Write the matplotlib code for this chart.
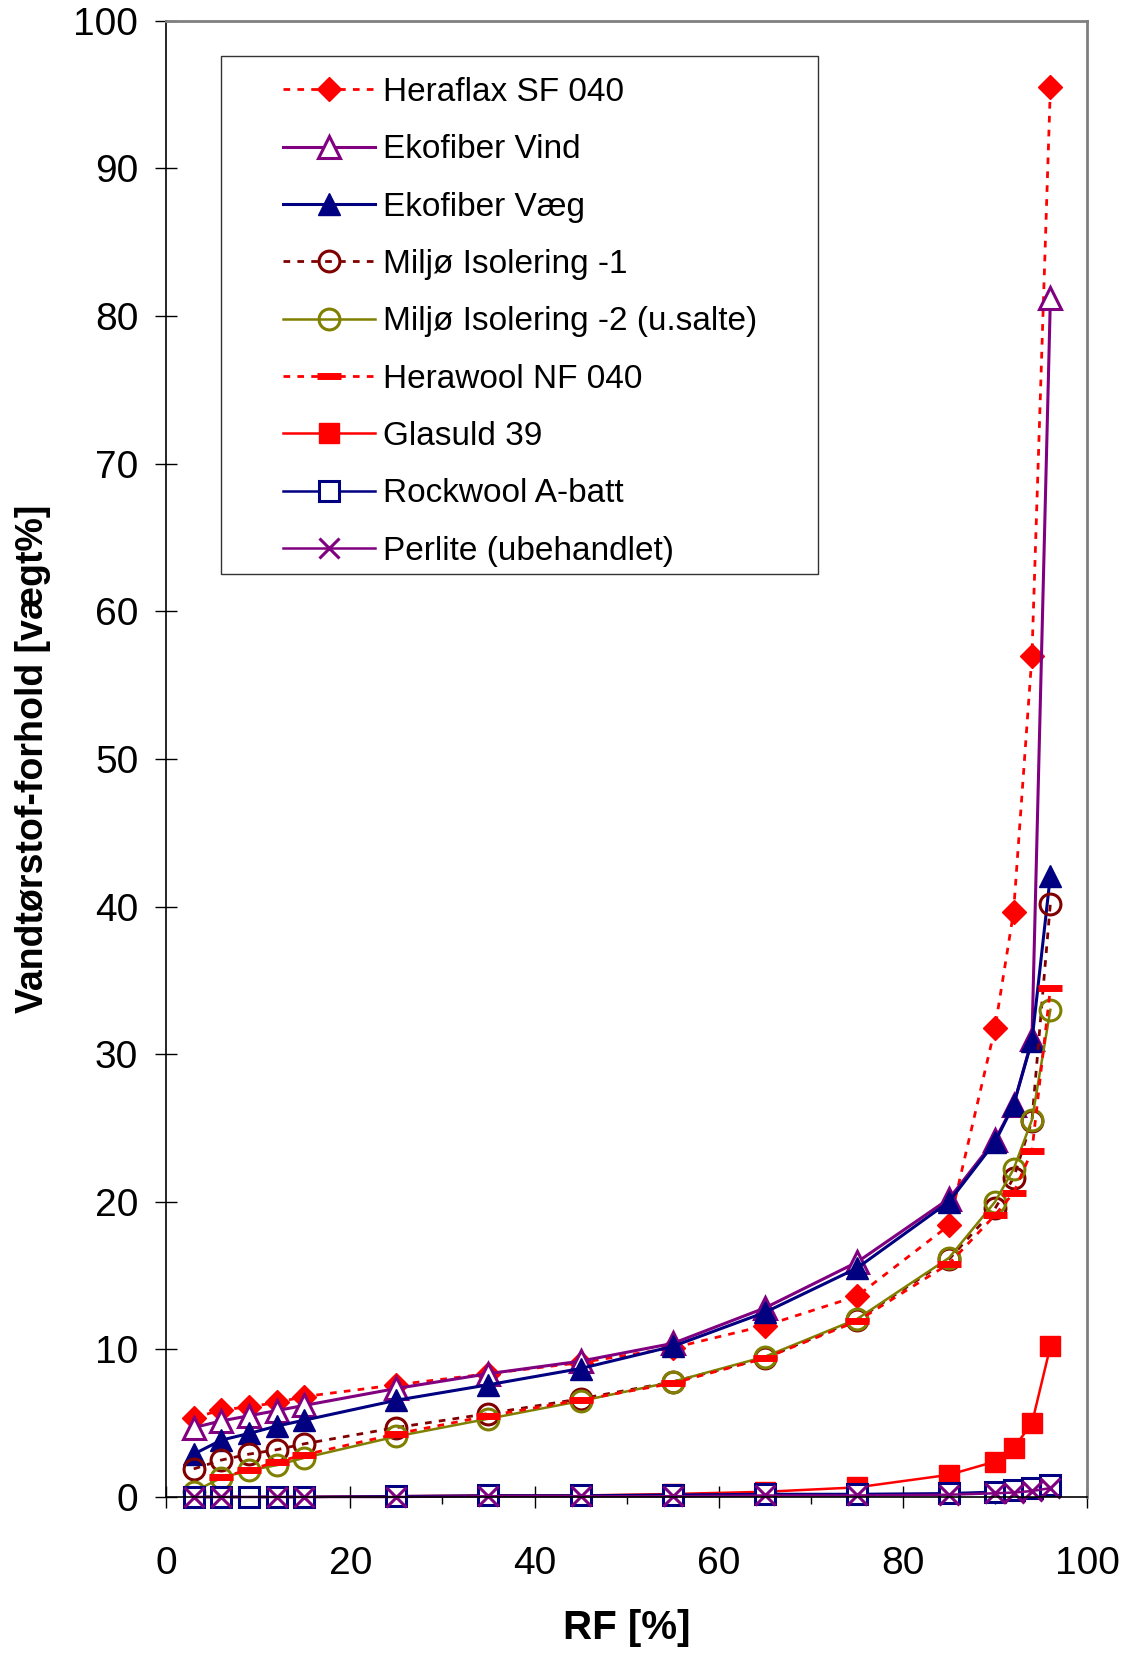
import numpy as np
import matplotlib.pyplot as plt
from matplotlib.patches import Rectangle

plt.rcParams['font.family'] = ['Liberation Sans', 'DejaVu Sans']

rf = [3, 6, 9, 12, 15, 25, 35, 45, 55, 65, 75, 85, 90, 92, 94, 96]

heraflax = [5.35, 5.9, 6.1, 6.4, 6.8, 7.6, 8.35, 9.1, 10.1, 11.6, 13.6, 18.4, 31.8, 39.6, 57.0, 95.5]
eko_vind = [4.7, 5.15, 5.5, 5.85, 6.2, 7.35, 8.35, 9.2, 10.4, 12.8, 15.9, 20.2, 24.2, 26.55, 31.0, 81.2]
eko_vaeg = [2.9, 3.85, 4.3, 4.8, 5.2, 6.55, 7.6, 8.7, 10.2, 12.5, 15.5, 20.0, 24.05, 26.55, 30.9, 42.1]
miljo1 = [1.9, 2.5, 2.9, 3.2, 3.6, 4.7, 5.65, 6.65, 7.8, 9.4, 12.0, 16.1, 19.55, 21.6, 25.5, 40.2]
miljo2 = [0.35, 1.3, 1.8, 2.15, 2.65, 4.1, 5.3, 6.5, 7.8, 9.5, 12.05, 16.2, 20.0, 22.2, 25.55, 33.0]

rf_herawool = [6, 9, 12, 15, 25, 35, 45, 55, 65, 75, 85, 90, 92, 94, 96]
herawool = [1.35, 1.83, 2.37, 2.85, 4.27, 5.5, 6.57, 7.7, 9.4, 11.9, 15.8, 19.1, 20.6, 23.45, 34.45]

glasuld = [0.0, 0.0, 0.0, 0.0, 0.0, 0.05, 0.1, 0.1, 0.2, 0.35, 0.65, 1.5, 2.4, 3.3, 5.0, 10.2]
rockwool = [0.0, 0.0, 0.0, 0.0, 0.0, 0.05, 0.1, 0.1, 0.15, 0.2, 0.2, 0.25, 0.35, 0.45, 0.6, 0.8]

rf_perlite = [3, 6, 12, 15, 25, 35, 45, 55, 65, 75, 85, 90, 92, 94, 96]
perlite = [0.0, 0.0, 0.0, 0.0, 0.0, 0.05, 0.05, 0.05, 0.1, 0.1, 0.15, 0.25, 0.3, 0.4, 0.6]

red = '#FF0000'
purple = '#800080'
navy = '#000080'
maroon = '#800000'
olive = '#808000'
dots = (0, (2.4, 2.6))

fig = plt.figure(figsize=(11.22, 16.53), dpi=100)
ax = fig.add_axes([0.148, 0.0944, 0.821, 0.893])

ax.plot(rf, heraflax, color=red, ls=dots, lw=2, marker='D', ms=12,
        mfc=red, mec=red, label='Heraflax SF 040', clip_on=False)
ax.plot(rf, eko_vind, color=purple, lw=2.2, marker='^', ms=16, mfc='white',
        mec=purple, mew=2.2, label='Ekofiber Vind', clip_on=False)
ax.plot(rf, eko_vaeg, color=navy, lw=2.2, marker='^', ms=16, mfc=navy,
        mec=navy, label='Ekofiber Væg', clip_on=False)
ax.plot(rf, miljo1, color=maroon, ls=dots, lw=2, marker='o', ms=15,
        mfc='none', mec=maroon, mew=2.2, label='Miljø Isolering -1', clip_on=False)
ax.plot(rf, miljo2, color=olive, lw=1.8, marker='o', ms=15, mfc='none',
        mec=olive, mew=2.2, label='Miljø Isolering -2 (u.salte)', clip_on=False)
ax.plot(rf_herawool, herawool, color=red, ls=dots, lw=2, marker='_', ms=17,
        mec=red, mew=5, label='Herawool NF 040', clip_on=False)
ax.plot(rf, glasuld, color=red, lw=1.8, marker='s', ms=15, mfc=red,
        mec=red, label='Glasuld 39', clip_on=False)
ax.plot(rf, rockwool, color=navy, lw=1.8, marker='s', ms=15, mfc='white',
        mec=navy, mew=2.2, label='Rockwool A-batt', clip_on=False)
ax.plot(rf_perlite, perlite, color=purple, lw=1.8, marker='x', ms=14,
        mec=purple, mew=2.2, label='Perlite (ubehandlet)', clip_on=False)

ax.set_xlim(0, 100)
ax.set_ylim(0, 100)
ax.set_xticks(np.arange(0, 101, 20))
ax.set_xticks(np.arange(10, 100, 20), minor=True)
ax.set_yticks(np.arange(0, 101, 10))
ax.tick_params(axis='both', which='major', direction='inout', length=16,
               width=1, labelsize=28, colors='black')
ax.tick_params(axis='x', which='major', pad=27)
ax.tick_params(axis='y', which='major', pad=12)
ax.tick_params(axis='x', which='minor', direction='out', length=5, width=1)

for s in ['top', 'right']:
    ax.spines[s].set_color('#808080')
    ax.spines[s].set_linewidth(2)
for s in ['left', 'bottom']:
    ax.spines[s].set_color('black')
    ax.spines[s].set_linewidth(1.2)

ax.set_xlabel('RF [%]', fontsize=29, fontweight='bold', labelpad=20)
ax.set_ylabel('Vandtørstof-forhold [vægt%]', fontsize=27, fontweight='bold', labelpad=16)

ax.add_patch(Rectangle((0.060, 0.625), 0.648, 0.351, transform=ax.transAxes,
                       fill=True, facecolor='white', edgecolor='#333333',
                       lw=1, zorder=4))
leg = ax.legend(loc='upper left', bbox_to_anchor=(0.127, 0.962), frameon=False,
                fontsize=24, handlelength=2.75, handletextpad=0.25,
                labelspacing=0.79, borderpad=0, borderaxespad=0)
leg.set_zorder(5)

fig.savefig('out.png', dpi=100)
